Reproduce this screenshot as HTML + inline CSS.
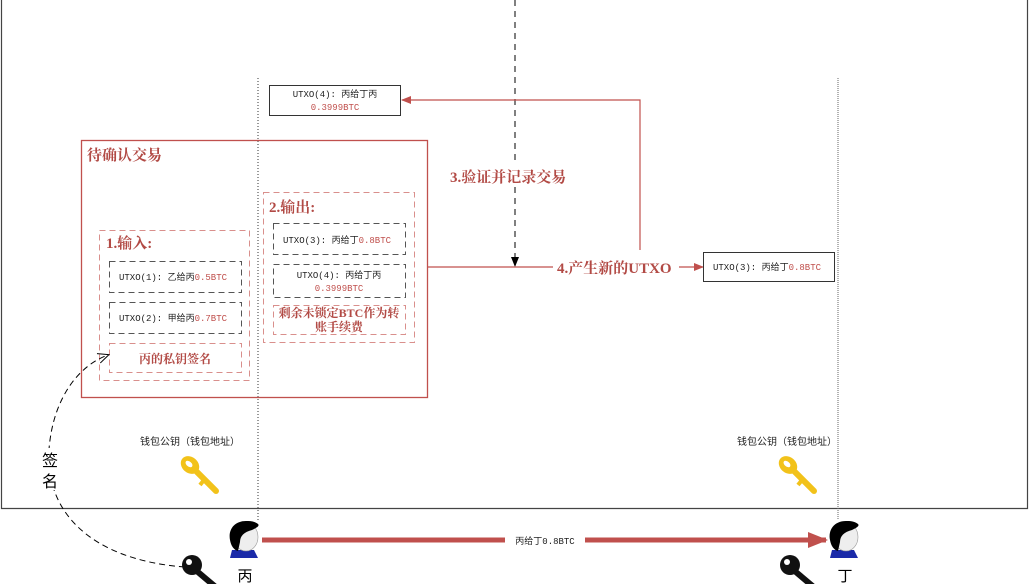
<!DOCTYPE html>
<html><head><meta charset="utf-8"><style>
html,body{margin:0;padding:0;background:#fff;width:1029px;height:584px;overflow:hidden}
svg{display:block}
text{font-family:"Liberation Sans","Noto Sans CJK SC",sans-serif}
.m{font-family:"Liberation Mono","Noto Sans CJK SC",monospace;font-size:9px;fill:#222}
.r{fill:#c0504d}
.b{font-family:"Liberation Serif","Noto Serif CJK SC",serif;font-weight:bold;fill:#b24a45}
</style></head><body>
<svg width="1029" height="584" viewBox="0 0 1029 584" xmlns="http://www.w3.org/2000/svg">
<defs>
<marker id="ar" markerWidth="10" markerHeight="10" refX="9" refY="5" orient="auto" markerUnits="userSpaceOnUse"><path d="M0,1 L10,5 L0,9 z" fill="#c0504d"/></marker>
<marker id="ak" markerWidth="10" markerHeight="10" refX="9" refY="5" orient="auto" markerUnits="userSpaceOnUse"><path d="M0,1 L10,5 L0,9 z" fill="#000"/></marker>
<marker id="ao" markerWidth="12" markerHeight="12" refX="10" refY="6" orient="auto" markerUnits="userSpaceOnUse"><path d="M0,1 L11,6 L0,11" fill="none" stroke="#000" stroke-width="1"/></marker>
<marker id="abig" markerWidth="20" markerHeight="20" refX="18" refY="10" orient="auto" markerUnits="userSpaceOnUse"><path d="M0,2 L20,10 L0,18 z" fill="#c0504d"/></marker>
</defs>
<!-- outer frame -->
<path d="M1.5,0 V508.5 H1027.5 V0" fill="none" stroke="#444" stroke-width="1.2"/>
<!-- dotted verticals -->
<line x1="258" y1="78" x2="258" y2="520" stroke="#333" stroke-dasharray="1,2"/>
<line x1="838" y1="78" x2="838" y2="520" stroke="#666" stroke-dasharray="1,1"/>
<!-- top dashed arrow -->
<line x1="515" y1="0" x2="515" y2="266" stroke="#000" stroke-dasharray="6,5" marker-end="url(#ak)"/>
<!-- UTXO(4) top box -->
<rect x="269.5" y="85.5" width="131" height="30" fill="#fff" stroke="#333"/>
<text class="m" x="335" y="97" text-anchor="middle">UTXO(4): 丙给丁丙</text>
<text class="m r" x="335" y="110" text-anchor="middle">0.3999BTC</text>
<!-- red connector -->
<polyline points="640,250 640,100 402,100" fill="none" stroke="#c0504d" stroke-width="1.2" marker-end="url(#ar)"/>
<line x1="428" y1="267" x2="553" y2="267" stroke="#c0504d" stroke-width="1.2"/>
<line x1="679" y1="267" x2="703" y2="267" stroke="#c0504d" stroke-width="1.2" marker-end="url(#ar)"/>
<rect x="703.5" y="252.5" width="131" height="29" fill="#fff" stroke="#333"/>
<text class="m" x="713" y="270">UTXO(3): 丙给丁<tspan class="r">0.8BTC</tspan></text>
<text class="b" x="557" y="273" font-size="15">4.产生新的UTXO</text>
<rect x="446" y="164" width="134" height="22" fill="#fff"/>
<text class="b" x="450" y="182" font-size="15">3.验证并记录交易</text>
<!-- pending box -->
<rect x="81.5" y="140.5" width="346" height="257" fill="none" stroke="#c0504d" stroke-width="1.3"/>
<text class="b" x="87" y="160" font-size="15">待确认交易</text>
<!-- inputs -->
<rect x="99.5" y="230.5" width="150" height="150" fill="none" stroke="#d98f8c" stroke-dasharray="6,4"/>
<text class="b" x="106" y="248" font-size="15">1.输入:</text>
<rect x="109.5" y="261.5" width="132" height="31" fill="none" stroke="#555" stroke-dasharray="6,4"/>
<text class="m" x="119" y="280">UTXO(1): 乙给丙<tspan class="r">0.5BTC</tspan></text>
<rect x="109.5" y="302.5" width="132" height="31" fill="none" stroke="#555" stroke-dasharray="6,4"/>
<text class="m" x="119" y="321">UTXO(2): 甲给丙<tspan class="r">0.7BTC</tspan></text>
<rect x="109.5" y="343.5" width="132" height="29" fill="none" stroke="#d98f8c" stroke-dasharray="6,4"/>
<text class="b" x="175" y="363" font-size="12" text-anchor="middle">丙的私钥签名</text>
<!-- outputs -->
<rect x="263.5" y="192.5" width="151" height="150" fill="none" stroke="#d98f8c" stroke-dasharray="6,4"/>
<text class="b" x="269" y="212" font-size="15">2.输出:</text>
<rect x="273.5" y="223.5" width="132" height="31" fill="none" stroke="#555" stroke-dasharray="6,4"/>
<text class="m" x="283" y="243">UTXO(3): 丙给丁<tspan class="r">0.8BTC</tspan></text>
<rect x="273.5" y="264.5" width="132" height="33" fill="none" stroke="#555" stroke-dasharray="6,4"/>
<text class="m" x="339" y="278" text-anchor="middle">UTXO(4): 丙给丁丙</text>
<text class="m r" x="339" y="291" text-anchor="middle">0.3999BTC</text>
<rect x="273.5" y="305.5" width="132" height="29" fill="none" stroke="#d98f8c" stroke-dasharray="6,4"/>
<text class="b" x="339" y="317" font-size="12" text-anchor="middle">剩余未锁定BTC作为转</text>
<text class="b" x="339" y="331" font-size="12" text-anchor="middle">账手续费</text>
<!-- signature curve -->
<path d="M185,567 C90,560 40,510 50,440 C56,395 80,365 108,355" fill="none" stroke="#000" stroke-dasharray="6,4" marker-end="url(#ao)"/>
<rect x="40" y="448" width="20" height="42" fill="#fff"/>
<text x="50" y="466" font-size="16" text-anchor="middle" fill="#000">签</text>
<text x="50" y="487" font-size="16" text-anchor="middle" fill="#000">名</text>
<!-- public key labels -->
<text x="140" y="445" font-size="10" fill="#222">钱包公钥（钱包地址）</text>
<text x="737" y="445" font-size="10" fill="#222">钱包公钥（钱包地址）</text>
<!-- yellow keys -->
<g transform="translate(178,455)">
<line x1="14" y1="12" x2="38" y2="36" stroke="#f2c21a" stroke-width="6" stroke-linecap="round"/>
<ellipse cx="12" cy="10" rx="10" ry="8" fill="#f2c21a" transform="rotate(40 12 10)"/>
<ellipse cx="11" cy="9" rx="4" ry="2.5" fill="#fff" transform="rotate(40 11 9)"/>
<line x1="26" y1="25" x2="22" y2="30" stroke="#f2c21a" stroke-width="4"/>
</g>
<g transform="translate(776,455)">
<line x1="14" y1="12" x2="38" y2="36" stroke="#f2c21a" stroke-width="6" stroke-linecap="round"/>
<ellipse cx="12" cy="10" rx="10" ry="8" fill="#f2c21a" transform="rotate(40 12 10)"/>
<ellipse cx="11" cy="9" rx="4" ry="2.5" fill="#fff" transform="rotate(40 11 9)"/>
<line x1="26" y1="25" x2="22" y2="30" stroke="#f2c21a" stroke-width="4"/>
</g>
<!-- black keys -->
<g transform="translate(180,553)">
<line x1="12" y1="14" x2="38" y2="36" stroke="#111" stroke-width="6"/>
<circle cx="12" cy="12" r="10" fill="#111"/>
<circle cx="9" cy="9" r="3" fill="#fff"/>
</g>
<g transform="translate(778,553)">
<line x1="12" y1="14" x2="38" y2="36" stroke="#111" stroke-width="6"/>
<circle cx="12" cy="12" r="10" fill="#111"/>
<circle cx="9" cy="9" r="3" fill="#fff"/>
</g>
<!-- big arrow -->
<line x1="262" y1="540" x2="826" y2="540" stroke="#c0504d" stroke-width="5" marker-end="url(#abig)"/>
<rect x="505" y="533" width="80" height="14" fill="#fff"/>
<text class="m" x="545" y="544" text-anchor="middle" font-size="10">丙给丁0.8BTC</text>
<!-- persons -->
<g transform="translate(228,520)">
<path d="M4,30 L26,30 L30,38 L2,38 z" fill="#1a2aa8"/>
<ellipse cx="18" cy="17" rx="12" ry="14" fill="#eee" stroke="#999" stroke-width="0.6"/>
<path d="M18,1 C6,1 0,10 2,20 C3,26 6,30 10,31 L12,22 C12,16 16,12 24,10 C28,8 32,6 30,4 C26,1 22,1 18,1 z" fill="#000"/>
<text x="17" y="61" font-size="15" text-anchor="middle" fill="#000">丙</text>
</g>
<g transform="translate(828,520)">
<path d="M4,30 L26,30 L30,38 L2,38 z" fill="#1a2aa8"/>
<ellipse cx="18" cy="17" rx="12" ry="14" fill="#eee" stroke="#999" stroke-width="0.6"/>
<path d="M18,1 C6,1 0,10 2,20 C3,26 6,30 10,31 L12,22 C12,16 16,12 24,10 C28,8 32,6 30,4 C26,1 22,1 18,1 z" fill="#000"/>
<text x="17" y="61" font-size="15" text-anchor="middle" fill="#000">丁</text>
</g>
</svg>
</body></html>
